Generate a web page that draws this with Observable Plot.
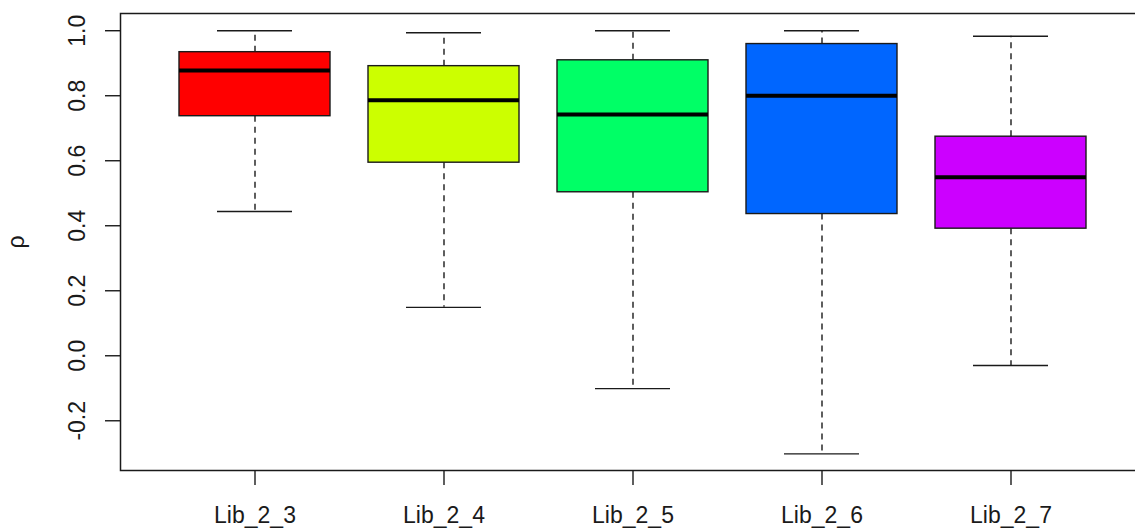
<!DOCTYPE html>
<html>
<head>
<meta charset="utf-8">
<script src="https://cdn.jsdelivr.net/npm/d3@7"></script>
<script src="https://cdn.jsdelivr.net/npm/@observablehq/plot@0.6"></script>
<style>
  body { margin: 0; background: white; overflow: hidden; }
  svg { font-family: "Liberation Sans", Arial, sans-serif; }
</style>
</head>
<body>
<div id="chart"></div>
<script>
const names = ["Lib_2_3", "Lib_2_4", "Lib_2_5", "Lib_2_6", "Lib_2_7"];
const colors = ["#FF0000", "#CCFF00", "#00FF66", "#0066FF", "#CC00FF"];
const whiskerLow = [0.444, 0.149, -0.101, -0.302, -0.030];
const q1 = [0.737, 0.594, 0.503, 0.436, 0.391];
const median = [0.878, 0.786, 0.742, 0.800, 0.549];
const q3 = [0.934, 0.891, 0.909, 0.959, 0.674];
const whiskerHigh = [1.0, 0.994, 1.0, 1.0, 0.983];
const yTicks = [-0.2, 0.0, 0.2, 0.4, 0.6, 0.8, 1.0];

const data = names.map((n, i) => ({
  name: n, color: colors[i], lo: whiskerLow[i], q1: q1[i], med: median[i], q3: q3[i], hi: whiskerHigh[i]
}));

const ink = "#1a1a1a";
const chart = Plot.plot({
  width: 1135,
  height: 530,
  marginLeft: 120,
  marginRight: -10,
  marginTop: 13,
  marginBottom: 60,
  style: {fontFamily: "'Liberation Sans', Arial, sans-serif", background: "white"},
  x: {type: "band", domain: names, range: [120, 1145], paddingInner: 0.2, paddingOuter: 0.3, axis: null},
  y: {domain: [-0.353, 1.053], axis: null},
  color: {type: "identity"},
  marks: [
    // whiskers (dashed)
    Plot.ruleX(data, {x: "name", y1: "q3", y2: "hi", stroke: ink, strokeWidth: 1.4, strokeDasharray: "6,5"}),
    Plot.ruleX(data, {x: "name", y1: "q1", y2: "lo", stroke: ink, strokeWidth: 1.4, strokeDasharray: "6,5"}),
    // staples
    Plot.tickY(data, {x: "name", y: "hi", stroke: ink, strokeWidth: 1.4, insetLeft: 38, insetRight: 38}),
    Plot.tickY(data, {x: "name", y: "lo", stroke: ink, strokeWidth: 1.4, insetLeft: 38, insetRight: 38}),
    // boxes
    Plot.barY(data, {x: "name", y1: "q1", y2: "q3", fill: "color", stroke: ink, strokeWidth: 1.4}),
    // medians
    Plot.tickY(data, {x: "name", y: "med", stroke: "#000", strokeWidth: 4}),
    // frame
    Plot.frame({stroke: ink, strokeWidth: 1.5}),
    // y axis ticks
    Plot.axisY(yTicks, {anchor: "left", tickSize: 15, tickFormat: () => "", stroke: ink, strokeWidth: 1.4, label: null}),
    Plot.text(yTicks, {y: d => d, frameAnchor: "left", textAnchor: "middle", dx: -43, rotate: -90, text: d => d3.format(".1f")(d).replace("−", "-"), fontSize: 23, fill: ink}),
    // x axis ticks
    Plot.axisX(names, {anchor: "bottom", tickSize: 15, tickFormat: () => "", stroke: ink, strokeWidth: 1.4, label: null}),
    Plot.text(names, {x: d => d, frameAnchor: "bottom", dy: 45, lineAnchor: "middle", fontSize: 23, fill: ink}),
    // y label
    Plot.text(["ρ"], {frameAnchor: "left", textAnchor: "middle", dx: -104, rotate: -90, fontSize: 23, fill: ink})
  ]
});
document.getElementById("chart").appendChild(chart);
</script>
</body>
</html>
